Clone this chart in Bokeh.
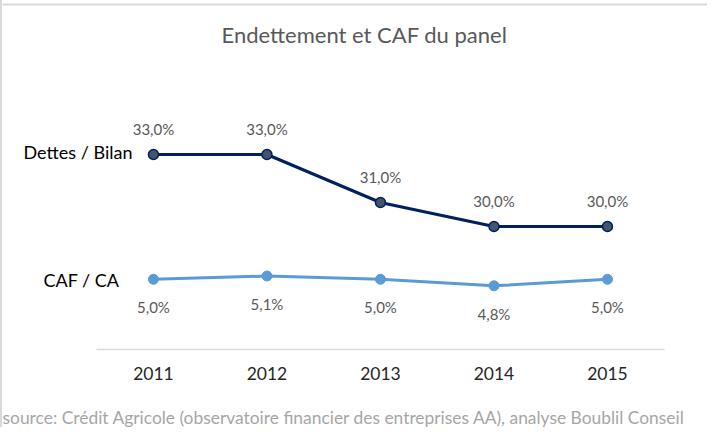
from bokeh.plotting import figure
from bokeh.models import Range1d, FixedTicker, Span, Label, Title, ColumnDataSource
from bokeh.core.properties import value
from bokeh.embed import file_html
from bokeh.resources import INLINE

# ---- data ----
years = [2011, 2012, 2013, 2014, 2015]
year_labels = ["2011", "2012", "2013", "2014", "2015"]
dettes_bilan = [33.0, 33.0, 31.0, 30.0, 30.0]
caf_ca = [5.0, 5.1, 5.0, 4.8, 5.0]
series_names = ["Dettes / Bilan", "CAF / CA"]
chart_title = "Endettement et CAF du panel"
source_text = "source: Crédit Agricole (observatoire financier des entreprises AA), analyse Boublil Conseil"


def fmt(v):
    return f"{v:.1f}".replace(".", ",") + "%"


src_d = ColumnDataSource(dict(x=years, y=dettes_bilan, lab=[fmt(v) for v in dettes_bilan]))
src_c = ColumnDataSource(dict(x=years, y=caf_ca, lab=[fmt(v) for v in caf_ca]))

FONT = "Lato"
NAVY = "#002060"
BLUE = "#5b9bd5"

X0, X1 = 2009.670, 2015.899
Y0, Y1 = 24.875, 39.417

p = figure(width=707, height=427, output_backend="svg", toolbar_location=None,
           x_range=Range1d(X0, X1), y_range=Range1d(Y0, Y1),
           y_axis_location=None, min_border_left=0, min_border_right=0,
           min_border_top=0, min_border_bottom=78)
p.extra_y_ranges = {"caf": Range1d(2.84, 13.578)}
p.xgrid.visible = False
p.ygrid.visible = False
p.outline_line_color = None
p.background_fill_color = "white"
p.border_fill_color = "white"
p.styles = {"border-left": "2px solid #d9d9d9"}

# x axis
ax = p.xaxis[0]
ax.ticker = FixedTicker(ticks=years)
ax.major_label_overrides = {y: l for y, l in zip(years, year_labels)}
ax.bounds = (2010.5, 2015.5)
ax.axis_line_color = "#d9d9d9"
ax.axis_line_width = 1.5
ax.major_tick_line_color = None
ax.minor_tick_line_color = None
ax.major_label_text_font = FONT
ax.major_label_text_font_style = "normal"
ax.major_label_text_font_size = "17.5px"
ax.major_label_text_color = "#262626"
ax.major_label_standoff = 11
# blank axis label used only as spacing above the source note
ax.axis_label = " "
ax.axis_label_text_font_size = "10px"
ax.axis_label_standoff = 8

# top border
p.add_layout(Span(location=39.25, dimension="width", line_color="#d9d9d9", line_width=2))

# title
p.add_layout(Label(x=2012.859, y=38.0, text=chart_title, text_align="center",
                   text_baseline="middle", text_font=FONT, text_font_size="22px",
                   text_font_style="normal", text_color="#595959"))

# Dettes / Bilan
p.line("x", "y", source=src_d, line_color=NAVY, line_width=3)
p.scatter("x", "y", source=src_d, size=10, fill_color="#44546a", line_color=NAVY, line_width=1.5)
p.text("x", "y", text="lab", source=src_d, y_offset=-26, text_align="center",
       text_baseline="middle", text_font=value(FONT), text_font_size="15px", text_color="#595959")
p.text(x=[years[0]], y=[dettes_bilan[0]], text=[series_names[0]], x_offset=-21, y_offset=-3,
       text_align="right", text_baseline="middle", text_font=value(FONT),
       text_font_size="18px", text_color="#000000")

# CAF / CA
p.line("x", "y", source=src_c, y_range_name="caf", line_color=BLUE, line_width=3)
p.scatter("x", "y", source=src_c, y_range_name="caf", size=10, fill_color=BLUE, line_color=BLUE)
p.text("x", "y", text="lab", source=src_c, y_range_name="caf", y_offset=28, text_align="center",
       text_baseline="middle", text_font=value(FONT), text_font_size="15px", text_color="#595959")
p.text(x=[years[0]], y=[caf_ca[0]], text=[series_names[1]], y_range_name="caf", x_offset=-34, y_offset=1,
       text_align="right", text_baseline="middle", text_font=value(FONT),
       text_font_size="18px", text_color="#000000")

# source note
p.add_layout(Title(text=source_text, align="left", offset=0, standoff=0, vertical_align="bottom",
                   text_font=FONT, text_font_size="17.4px", text_font_style="normal",
                   text_color="#a6a6a6"), "below")

open("out.html", "w").write(file_html(p, INLINE))
